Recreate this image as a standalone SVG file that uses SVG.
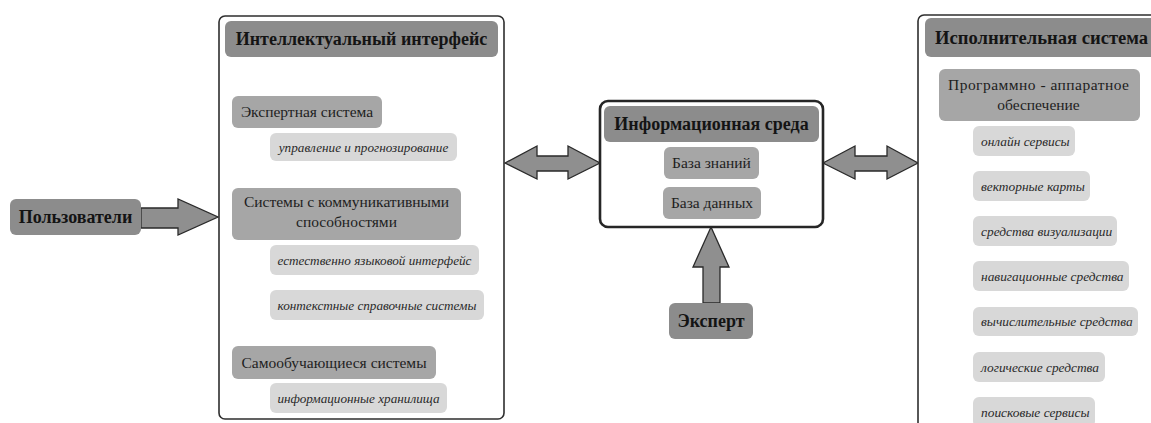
<svg xmlns="http://www.w3.org/2000/svg" width="1151" height="423" viewBox="0 0 1151 423">
  <style>
    .panel { fill: #ffffff; stroke: #2e2e2e; stroke-width: 1.6; }
    .panel-thick { fill: #ffffff; stroke: #262626; stroke-width: 2.6; }
    .dark { fill: #8c8c8c; }
    .mid { fill: #a6a6a6; }
    .light { fill: #d8d8d8; }
    .arrow { fill: #8f8f8f; stroke: #2a2a2a; stroke-width: 1.3; stroke-linejoin: miter; }
    .title { font-family: "Liberation Serif", "DejaVu Serif", serif; font-weight: bold; font-size: 18px; fill: #141414; text-anchor: middle; }
    .label { font-family: "Liberation Serif", "DejaVu Serif", serif; font-size: 15.5px; fill: #1e1e1e; text-anchor: middle; }
    .item { font-family: "Liberation Serif", "DejaVu Serif", serif; font-style: italic; font-size: 13.2px; fill: #2a2a2a; text-anchor: middle; }
    .item-l { font-family: "Liberation Serif", "DejaVu Serif", serif; font-style: italic; font-size: 13.4px; fill: #2a2a2a; text-anchor: start; }
  </style>

  <rect width="1151" height="423" fill="#ffffff"/>

  <!-- Connectors -->
  <g id="connectors">
    <polygon class="arrow" points="141,208 178,208 178,199 218,217 178,235 178,228 141,228"/>
    <polygon class="arrow" points="505,163 537,146 537,156 568,156 568,146 600,163 568,179 568,171 537,171 537,179"/>
    <polygon class="arrow" points="823,163 855,146 855,156 887,156 887,146 918,163 887,179 887,171 855,171 855,179"/>
    <polygon class="arrow" points="711,227 729,267 720,267 720,303 703,303 703,267 693,267"/>
  </g>

  <!-- Users -->
  <g id="users">
    <rect class="dark" x="10" y="199" width="131" height="36" rx="6"/>
    <text class="title" x="75.5" y="223">Пользователи</text>
  </g>

  <!-- Intelligent interface panel -->
  <g id="intelligent-interface">
    <rect class="panel" x="219" y="16" width="285" height="403" rx="6"/>
    <rect class="dark" x="225" y="21" width="273" height="36" rx="6"/>
    <text class="title" x="361.5" y="45">Интеллектуальный интерфейс</text>

    <rect class="mid" x="232" y="96" width="150" height="32" rx="6"/>
    <text class="label" x="307" y="117">Экспертная система</text>
    <rect class="light" x="270" y="133" width="187" height="28" rx="6"/>
    <text class="item" x="363.5" y="152">управление и прогнозирование</text>

    <rect class="mid" x="232" y="188" width="229" height="52" rx="6"/>
    <text class="label" x="346.5" y="207">Системы с коммуникативными</text>
    <text class="label" x="346.5" y="227">способностями</text>
    <rect class="light" x="270" y="245" width="209" height="30" rx="6"/>
    <text class="item" x="374.5" y="265">естественно языковой интерфейс</text>
    <rect class="light" x="270" y="290" width="214" height="30" rx="6"/>
    <text class="item" x="377" y="310">контекстные справочные системы</text>

    <rect class="mid" x="232" y="346" width="204" height="33" rx="6"/>
    <text class="label" x="334" y="368">Самообучающиеся системы</text>
    <rect class="light" x="270" y="383" width="177" height="30" rx="6"/>
    <text class="item" x="358.5" y="403">информационные хранилища</text>
  </g>

  <!-- Information environment -->
  <g id="information-environment">
    <rect class="panel-thick" x="600" y="101" width="223" height="126" rx="8"/>
    <rect class="dark" x="604" y="106" width="215" height="36" rx="6"/>
    <text class="title" x="711.5" y="130">Информационная среда</text>
    <rect class="mid" x="664" y="147" width="95" height="32" rx="6"/>
    <text class="label" x="711.5" y="168">База знаний</text>
    <rect class="mid" x="663" y="187" width="98" height="32" rx="6"/>
    <text class="label" x="712" y="208">База данных</text>
  </g>

  <!-- Expert -->
  <g id="expert">
    <rect class="dark" x="669" y="303" width="84" height="36" rx="6"/>
    <text class="title" x="711" y="327">Эксперт</text>
  </g>

  <!-- Execution system panel -->
  <g id="execution-system">
    <rect class="panel" x="918" y="15" width="260" height="430" rx="6"/>
    <rect class="dark" x="925" y="18" width="240" height="39" rx="6"/>
    <text class="title" x="935" y="44" style="text-anchor:start; font-size:18.6px">Исполнительная система</text>

    <rect class="mid" x="939" y="69" width="201" height="52" rx="6"/>
    <text class="label" x="1038.5" y="90" textLength="181" lengthAdjust="spacing">Программно - аппаратное</text>
    <text class="label" x="1038.5" y="110">обеспечение</text>

    <rect class="light" x="973" y="126" width="102" height="30" rx="6"/>
    <text class="item-l" x="981" y="146">онлайн сервисы</text>
    <rect class="light" x="973" y="171" width="117" height="30" rx="6"/>
    <text class="item-l" x="981" y="191">векторные карты</text>
    <rect class="light" x="973" y="216" width="144" height="30" rx="6"/>
    <text class="item-l" x="981" y="236">средства визуализации</text>
    <rect class="light" x="973" y="261" width="156" height="30" rx="6"/>
    <text class="item-l" x="981" y="281">навигационные средства</text>
    <rect class="light" x="973" y="307" width="165" height="29" rx="6"/>
    <text class="item-l" x="981" y="326">вычислительные средства</text>
    <rect class="light" x="973" y="352" width="132" height="30" rx="6"/>
    <text class="item-l" x="981" y="372">логические средства</text>
    <rect class="light" x="973" y="397" width="122" height="30" rx="6"/>
    <text class="item-l" x="981" y="417">поисковые сервисы</text>
  </g>
</svg>
